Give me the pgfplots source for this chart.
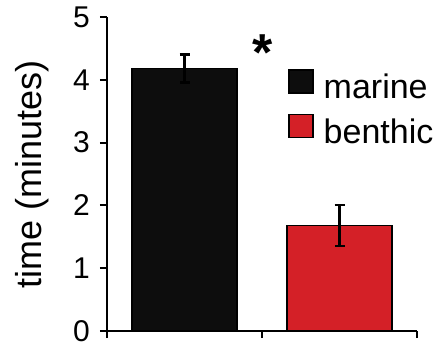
\documentclass[border=0pt]{standalone}
\usepackage{pgfplots}
\pgfplotsset{compat=1.18}
\usepackage{fontspec}
\setmainfont{Liberation Sans}
\definecolor{barblack}{HTML}{0D0D0D}
\definecolor{barred}{HTML}{D42027}
\begin{document}
\begin{tikzpicture}
\useasboundingbox (-107pt,-14pt) rectangle (339pt,331pt);
\begin{axis}[
  scale only axis,
  width=310pt, height=314pt,
  xmin=0, xmax=2, ymin=0, ymax=5,
  axis x line=bottom, axis y line=left,
  axis line style={-, line width=2pt},
  every tick/.style={black, line width=2pt},
  major tick length=7pt,
  tick align=outside,
  xtick={0,1,2}, xticklabels={},
  ytick={0,1,2,3,4,5},
  /pgf/number format/assume math mode=true,
  yticklabel style={font=\fontsize{30}{30}\selectfont, inner sep=0pt, xshift=-10pt},
  ylabel={time (minutes)},
  ylabel style={font=\fontsize{36}{36}\selectfont, at={(axis description cs:-0.188,0.5)}, rotate=0, anchor=south, inner sep=0pt},
  legend style={at={(0.584,0.835)}, anchor=north west, draw=none, fill=none, inner sep=0pt,
    font=\fontsize{34}{34}\selectfont, row sep=14pt, column sep=0pt,
    nodes={inner sep=0pt}},
  legend cell align=left,
  clip=false,
]
\addplot[ybar, bar width=0.677, bar shift=0pt, fill=barblack, draw=black, line width=1.5pt,
  legend image code/.code={\draw[fill=barblack, draw=black, line width=1.5pt] (0pt,-6pt) rectangle (24pt,17pt);},
  error bars/.cd, y dir=both, y explicit,
  error bar style={line width=2.4pt, black},
  error mark options={rotate=90, mark size=5pt, line width=2.4pt, black},
  ]
  coordinates {(0.5,4.18) +- (0,0.22)};
\addlegendentry{\hspace{10pt}marine}
\addplot[ybar, bar width=0.677, bar shift=0pt, fill=barred, draw=black, line width=1.5pt,
  legend image code/.code={\draw[fill=barred, draw=black, line width=1.5pt] (0pt,-6pt) rectangle (24pt,17pt);},
  error bars/.cd, y dir=both, y explicit,
  error bar style={line width=2.4pt, black},
  error mark options={rotate=90, mark size=5pt, line width=2.4pt, black},
  ]
  coordinates {(1.5,1.68) +- (0,0.33)};
\addlegendentry{\hspace{10pt}benthic}
\node[anchor=north, inner sep=0pt, font=\fontsize{52}{52}\selectfont\bfseries] at (axis cs:1.006,4.72) {*};
\end{axis}
\end{tikzpicture}
\end{document}
